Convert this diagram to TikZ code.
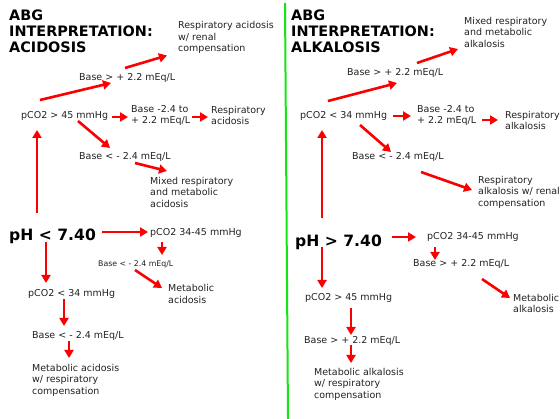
\documentclass[tikz,border=0pt]{standalone}
\usepackage{fontspec}
\setmainfont{DejaVu Sans}
\usetikzlibrary{arrows.meta,calc}
\definecolor{arrR}{RGB}{250,0,0}
\definecolor{divG}{RGB}{20,230,20}
\definecolor{txtK}{RGB}{34,34,34}

\begin{document}
\begin{tikzpicture}[x=1pt,y=-1pt,>={Triangle[length=8pt,width=9pt]},
  lbl/.style={anchor=west,inner sep=0pt,text=txtK,font=\fontsize{9.5}{11.5}\selectfont,align=left},
  sml/.style={lbl,font=\fontsize{7.8}{9}\selectfont},
  ttl/.style={anchor=west,inner sep=0pt,text=black,font=\fontsize{14.4}{16}\selectfont\bfseries,align=left},
  big/.style={anchor=west,inner sep=0pt,text=black,font=\fontsize{15.6}{18}\selectfont\bfseries},
  arr/.style={->,arrR,line width=2.6pt}]
\useasboundingbox[fill=white] (0,0) rectangle (560,419);
\draw[divG,line width=2pt] (285,3) -- (288,419);
\node[ttl] (tA) at (9,31) {ABG\\INTERPRETATION:\\ACIDOSIS};
\node[lbl] (rac) at (178,37.5) {Respiratory acidosis\\w/ renal\\compensation};
\node[lbl] (bhiA) at (79,78) {Base > + 2.2 mEq/L};
\node[lbl] (pA) at (21,116) {pCO2 > 45 mmHg};
\node[lbl] (bmidA) at (131,115.5) {Base -2.4 to\\+ 2.2 mEq/L};
\node[lbl] (raA) at (211,115.5) {Respiratory\\acidosis};
\node[lbl] (bloA) at (79,157) {Base < - 2.4 mEq/L};
\node[lbl] (mixA) at (150,192) {Mixed respiratory\\and metabolic\\acidosis};
\node[big] (phA) at (9,236) {pH < 7.40};
\node[lbl] (pnA) at (150,233) {pCO2 34-45 mmHg};
\node[sml] (bsA) at (98,264) {Base < - 2.4 mEq/L};
\node[lbl] (maA) at (168,294) {Metabolic\\acidosis};
\node[lbl] (plA) at (28,294) {pCO2 < 34 mmHg};
\node[lbl] (bl2A) at (32,336) {Base < - 2.4 mEq/L};
\node[lbl] (macA) at (32,380) {Metabolic acidosis\\w/ respiratory\\compensation};
\node[ttl] (tB) at (291,31) {ABG\\INTERPRETATION:\\ALKALOSIS};
\node[lbl] (mixB) at (464,32) {Mixed respiratory\\and metabolic\\alkalosis};
\node[lbl] (bhiB) at (347,73) {Base > + 2.2 mEq/L};
\node[lbl] (pB) at (300,116) {pCO2 < 34 mmHg};
\node[lbl] (bmidB) at (417,115.5) {Base -2.4 to\\+ 2.2 mEq/L};
\node[lbl] (raB) at (505,120.5) {Respiratory\\alkalosis};
\node[lbl] (bloB) at (352,157) {Base < - 2.4 mEq/L};
\node[lbl] (rarB) at (478,192) {Respiratory\\alkalosis w/ renal\\compensation};
\node[big] (phB) at (295,242) {pH > 7.40};
\node[lbl] (pnB) at (427,237) {pCO2 34-45 mmHg};
\node[lbl] (bsB) at (413,264) {Base > + 2.2 mEq/L};
\node[lbl] (mB) at (513,303.5) {Metabolic\\alkalosis};
\node[lbl] (phiB) at (305,298) {pCO2 > 45 mmHg};
\node[lbl] (bh2B) at (304,341) {Base > + 2.2 mEq/L};
\node[lbl] (malB) at (314,384) {Metabolic alkalosis\\w/ respiratory\\compensation};
\draw[arr] ($(pA.west)+(19,-16)$) -- ($(bhiA.west)+(32,5)$);
\draw[arr] ($(bhiA.west)+(46,-10)$) -- ($(rac.west)+(-11,18)$);
\draw[arr] ($(pA.west)+(91,1)$) -- ($(bmidA.west)+(-3,1.5)$);
\draw[arr] ($(bmidA.west)+(61,1.5)$) -- ($(raA.west)+(-3,1.5)$);
\draw[arr] ($(pA.west)+(57,5)$) -- ($(bloA.west)+(31,-9)$);
\draw[arr] ($(bloA.west)+(56,6)$) -- ($(mixA.west)+(17,-21)$);
\draw[arr] ($(phA.west)+(28,-23)$) -- ($(pA.west)+(16,14)$);
\draw[arr] ($(phA.west)+(93,-4)$) -- ($(pnA.west)+(-2,-1)$);
\draw[arr] ($(pnA.west)+(12,9)$) -- ($(bsA.west)+(64,-9)$);
\draw[arr] ($(bsA.west)+(37,6)$) -- ($(maA.west)+(-6,-6)$);
\draw[arr] ($(phA.west)+(37,6)$) -- ($(plA.west)+(18,-11)$);
\draw[arr] ($(plA.west)+(36,5)$) -- ($(bl2A.west)+(32,-10)$);
\draw[arr] ($(bl2A.west)+(37,5)$) -- ($(macA.west)+(37,-22)$);
\draw[arr] ($(pB.west)+(28,-15)$) -- ($(bhiB.west)+(50,10)$);
\draw[arr] ($(bhiB.west)+(70,-10)$) -- ($(mixB.west)+(-6,17)$);
\draw[arr] ($(pB.west)+(93,0)$) -- ($(bmidB.west)+(-6,0.5)$);
\draw[arr] ($(bmidB.west)+(65,4.5)$) -- ($(raB.west)+(-7,-0.5)$);
\draw[arr] ($(pB.west)+(60,9)$) -- ($(bloB.west)+(39,-5)$);
\draw[arr] ($(bloB.west)+(69,15)$) -- ($(rarB.west)+(-6,-2)$);
\draw[arr] ($(phB.west)+(27,-24)$) -- ($(pB.west)+(22,14)$);
\draw[arr] ($(phB.west)+(97,-5)$) -- ($(pnB.west)+(-11,0)$);
\draw[arr] ($(pnB.west)+(8,10)$) -- ($(bsB.west)+(22,-4)$);
\draw[arr] ($(bsB.west)+(69,15)$) -- ($(mB.west)+(-3,-5.5)$);
\draw[arr] ($(phB.west)+(27,5)$) -- ($(phiB.west)+(17,-10)$);
\draw[arr] ($(phiB.west)+(46,10)$) -- ($(bh2B.west)+(47,-6)$);
\draw[arr] ($(bh2B.west)+(47,4)$) -- ($(malB.west)+(37,-21)$);
\end{tikzpicture}
\end{document}
